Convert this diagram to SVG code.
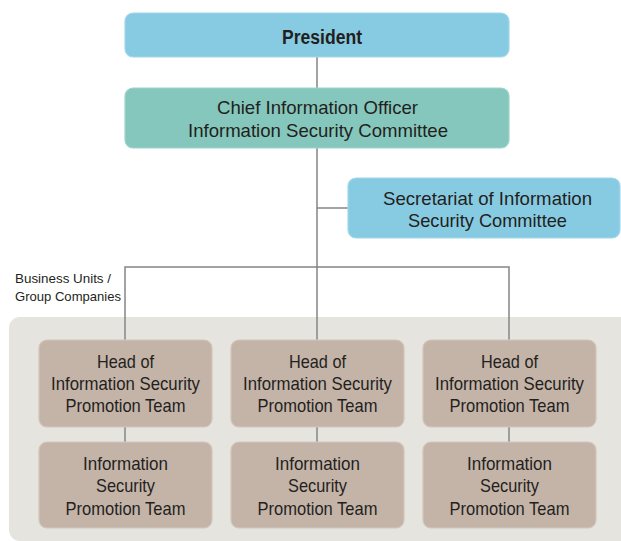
<svg xmlns="http://www.w3.org/2000/svg" width="621" height="541" viewBox="0 0 621 541">
<style>
text{font-family:"Liberation Sans",Arial,sans-serif;fill:#231f20;text-anchor:middle}
.t{font-size:18.5px}
.blue{fill:#87cbe2;stroke:#a3d8ea;stroke-width:1.2}
.teal{fill:#85c7bc;stroke:#a0d4cb;stroke-width:1.2}
.brown{fill:#c4b4a8;stroke:#d2c5bb;stroke-width:1.2}
.ln{stroke:#858585;stroke-width:1.5;fill:none}
</style>
<rect x="9" y="317" width="625" height="224" rx="11" fill="#e5e4de"/>
<g id="connectors" class="ln">
<path d="M317 57V88M317 148V340M317 208H348M125 340V267H509V340M125 427V442M317 427V442M509 427V442"/>
</g>
<g id="president"><rect class="blue" x="125" y="13" width="384" height="44" rx="8"/><text x="322" y="44" style="font-size:20px;font-weight:bold" textLength="80" lengthAdjust="spacingAndGlyphs">President</text></g>
<g id="cio"><rect class="teal" x="125" y="88" width="384" height="60" rx="8"/><text class="t" x="317.5" y="114" textLength="201" lengthAdjust="spacingAndGlyphs">Chief Information Officer</text><text class="t" x="318" y="137" textLength="260" lengthAdjust="spacingAndGlyphs">Information Security Committee</text></g>
<g id="secretariat"><rect class="blue" x="348" y="178" width="272" height="60" rx="8"/><text class="t" x="487.5" y="205" textLength="209" lengthAdjust="spacingAndGlyphs">Secretariat of Information</text><text class="t" x="487.5" y="227" textLength="159" lengthAdjust="spacingAndGlyphs">Security Committee</text></g>
<g id="bu-label"><text x="63" y="283" style="font-size:13.5px" textLength="96" lengthAdjust="spacingAndGlyphs">Business Units /</text><text x="68" y="301" style="font-size:13.5px" textLength="106" lengthAdjust="spacingAndGlyphs">Group Companies</text></g>
<g id="head1"><rect class="brown" x="39" y="340" width="173" height="87" rx="8"/><text class="t" x="125.5" y="368" textLength="57" lengthAdjust="spacingAndGlyphs">Head of</text><text class="t" x="125.5" y="390" textLength="149" lengthAdjust="spacingAndGlyphs">Information Security</text><text class="t" x="125.5" y="412" textLength="120" lengthAdjust="spacingAndGlyphs">Promotion Team</text></g>
<g id="head2"><rect class="brown" x="231" y="340" width="173" height="87" rx="8"/><text class="t" x="317.5" y="368" textLength="57" lengthAdjust="spacingAndGlyphs">Head of</text><text class="t" x="317.5" y="390" textLength="149" lengthAdjust="spacingAndGlyphs">Information Security</text><text class="t" x="317.5" y="412" textLength="120" lengthAdjust="spacingAndGlyphs">Promotion Team</text></g>
<g id="head3"><rect class="brown" x="423" y="340" width="173" height="87" rx="8"/><text class="t" x="509.5" y="368" textLength="57" lengthAdjust="spacingAndGlyphs">Head of</text><text class="t" x="509.5" y="390" textLength="149" lengthAdjust="spacingAndGlyphs">Information Security</text><text class="t" x="509.5" y="412" textLength="120" lengthAdjust="spacingAndGlyphs">Promotion Team</text></g>
<g id="team1"><rect class="brown" x="39" y="442" width="173" height="86" rx="8"/><text class="t" x="125.5" y="470" textLength="85" lengthAdjust="spacingAndGlyphs">Information</text><text class="t" x="125.5" y="492" textLength="59" lengthAdjust="spacingAndGlyphs">Security</text><text class="t" x="125.5" y="515" textLength="120" lengthAdjust="spacingAndGlyphs">Promotion Team</text></g>
<g id="team2"><rect class="brown" x="231" y="442" width="173" height="86" rx="8"/><text class="t" x="317.5" y="470" textLength="85" lengthAdjust="spacingAndGlyphs">Information</text><text class="t" x="317.5" y="492" textLength="59" lengthAdjust="spacingAndGlyphs">Security</text><text class="t" x="317.5" y="515" textLength="120" lengthAdjust="spacingAndGlyphs">Promotion Team</text></g>
<g id="team3"><rect class="brown" x="423" y="442" width="173" height="86" rx="8"/><text class="t" x="509.5" y="470" textLength="85" lengthAdjust="spacingAndGlyphs">Information</text><text class="t" x="509.5" y="492" textLength="59" lengthAdjust="spacingAndGlyphs">Security</text><text class="t" x="509.5" y="515" textLength="120" lengthAdjust="spacingAndGlyphs">Promotion Team</text></g>
</svg>
